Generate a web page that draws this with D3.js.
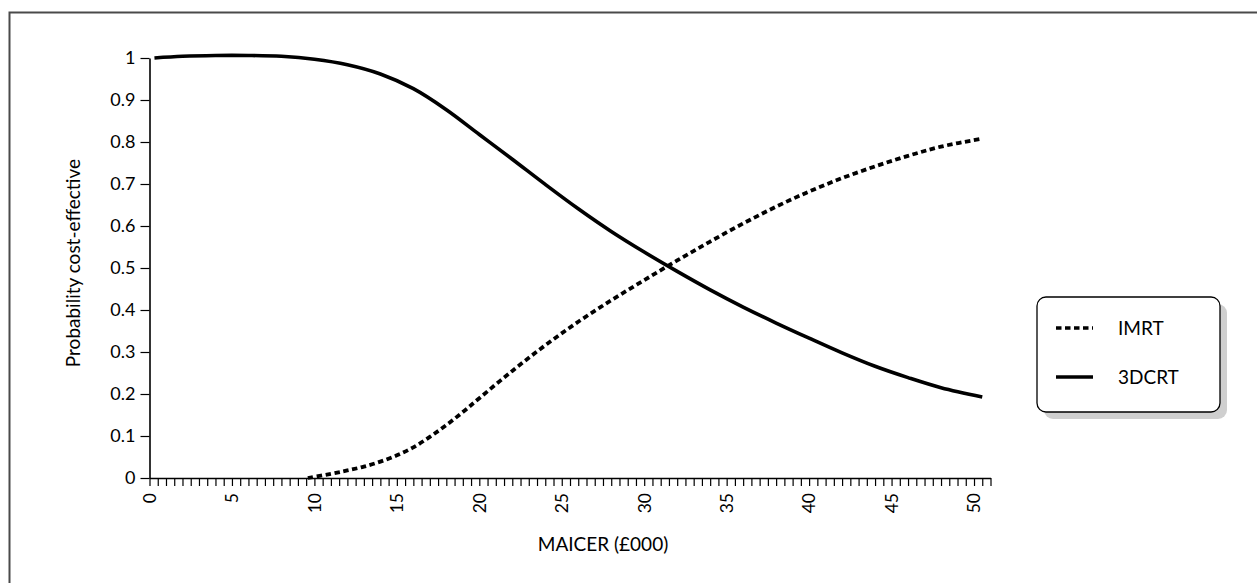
<!DOCTYPE html>
<html>
<head>
<meta charset="utf-8">
<script src="https://cdn.jsdelivr.net/npm/d3@7/dist/d3.min.js"></script>
<style>
  html, body { margin: 0; padding: 0; background: #fff; }
  svg { display: block; }
  text { font-family: Lato, "Open Sans", sans-serif; fill: #000; }
</style>
</head>
<body>
<svg id="chart" width="1257" height="583"></svg>
<script>
// Cost-effectiveness acceptability curves
const wtpImrt = [9.6, 11, 12, 13, 14, 15, 16, 17, 18, 19, 20, 22, 24, 26, 28, 30, 32, 34, 36, 38, 40, 42, 44, 46, 48, 50.5];
const probImrt = [0, 0.010, 0.018, 0.027, 0.039, 0.054, 0.073, 0.098, 0.126, 0.157, 0.190, 0.255, 0.316, 0.372, 0.423, 0.471, 0.518, 0.563, 0.606, 0.646, 0.682, 0.714, 0.742, 0.767, 0.789, 0.808];
const wtp3dcrt = [0.3, 2, 4, 6, 8, 10, 12, 14, 16, 18, 20, 22, 24, 26, 28, 30, 32, 34, 36, 38, 40, 42, 44, 46, 48, 50.5];
const prob3dcrt = [1.000, 1.004, 1.006, 1.006, 1.004, 0.997, 0.984, 0.962, 0.927, 0.877, 0.818, 0.759, 0.699, 0.641, 0.587, 0.538, 0.492, 0.448, 0.407, 0.369, 0.333, 0.298, 0.266, 0.239, 0.215, 0.193];
const seriesNames = ["IMRT", "3DCRT"];
const xMajorTicks = [0, 5, 10, 15, 20, 25, 30, 35, 40, 45, 50];
const yTicks = [0, 0.1, 0.2, 0.3, 0.4, 0.5, 0.6, 0.7, 0.8, 0.9, 1];
const yTickLabels = ["0", "0.1", "0.2", "0.3", "0.4", "0.5", "0.6", "0.7", "0.8", "0.9", "1"];

const svg = d3.select("#chart");

// outer frame
svg.append("rect")
  .attr("x", 9.5).attr("y", 12.5)
  .attr("width", 1400).attr("height", 800)
  .attr("fill", "none").attr("stroke", "#4a4a4a").attr("stroke-width", 2);

const x = d3.scaleLinear().domain([0, 51]).range([149.5, 990.5]);
const y = d3.scaleLinear().domain([0, 1]).range([478, 58]);

// x axis with half-unit minor ticks
const xMinor = d3.range(0, 51.001, 0.5);
const xAxis = d3.axisBottom(x)
  .tickValues(xMinor)
  .tickSize(8)
  .tickSizeOuter(0)
  .tickFormat("");
const gx = svg.append("g").attr("transform", `translate(0,${y(0)})`).call(xAxis);
gx.select(".domain").attr("stroke", "#000").attr("stroke-width", 1.6);
gx.selectAll(".tick line").attr("stroke", "#000").attr("stroke-width", 1.2);

svg.append("g").selectAll("text")
  .data(xMajorTicks)
  .join("text")
  .attr("transform", d => `translate(${x(d)},${y(0) + 15}) rotate(-90)`)
  .attr("text-anchor", "end")
  .attr("dy", "0.36em")
  .attr("font-size", 17.5)
  .text(d => d);

// y axis
const yAxis = d3.axisLeft(y)
  .tickValues(yTicks)
  .tickSize(9)
  .tickSizeOuter(0)
  .tickPadding(5)
  .tickFormat((d, i) => yTickLabels[i]);
const gy = svg.append("g").attr("transform", `translate(${x(0)},0)`).call(yAxis);
gy.select(".domain").attr("stroke", "#000").attr("stroke-width", 1.6);
gy.selectAll(".tick line").attr("stroke", "#000").attr("stroke-width", 1.2);
gy.selectAll(".tick text").attr("font-size", 18).attr("font-family", "Lato, sans-serif").attr("fill", "#000");

// axis titles
svg.append("text")
  .attr("x", 603).attr("y", 551)
  .attr("text-anchor", "middle")
  .attr("font-size", 19)
  .text("MAICER (£000)");

svg.append("text")
  .attr("transform", `translate(80,${(y(0) + y(1)) / 2 - 5}) rotate(-90)`)
  .attr("text-anchor", "middle")
  .attr("font-size", 19)
  .text("Probability cost-effective");

// curves
const line = d3.line()
  .x(d => x(d[0]))
  .y(d => y(d[1]))
  .curve(d3.curveCatmullRom.alpha(0.5));

const imrtPts = wtpImrt.map((w, i) => [w, probImrt[i]]);
const dcrtPts = wtp3dcrt.map((w, i) => [w, prob3dcrt[i]]);

svg.append("path")
  .datum(dcrtPts)
  .attr("d", line)
  .attr("fill", "none")
  .attr("stroke", "#000")
  .attr("stroke-width", 3.6);

svg.append("path")
  .datum(imrtPts)
  .attr("d", line)
  .attr("fill", "none")
  .attr("stroke", "#000")
  .attr("stroke-width", 3.8)
  .attr("stroke-dasharray", "5.5,3.5");

// legend
const lg = svg.append("g").attr("transform", "translate(1037,297)");
lg.append("rect")
  .attr("x", 7).attr("y", 7)
  .attr("width", 183).attr("height", 115)
  .attr("rx", 9).attr("ry", 9)
  .attr("fill", "#cfcfcf");
lg.append("rect")
  .attr("x", 0).attr("y", 0)
  .attr("width", 183).attr("height", 115)
  .attr("rx", 9).attr("ry", 9)
  .attr("fill", "#fff")
  .attr("stroke", "#000")
  .attr("stroke-width", 1.3);

const legendRows = [
  { name: seriesNames[0], dash: "5.5,3.5", yy: 31 },
  { name: seriesNames[1], dash: null, yy: 80 }
];
legendRows.forEach(r => {
  lg.append("line")
    .attr("x1", 19).attr("x2", 56)
    .attr("y1", r.yy).attr("y2", r.yy)
    .attr("stroke", "#000")
    .attr("stroke-width", 3.6)
    .attr("stroke-dasharray", r.dash);
  lg.append("text")
    .attr("x", 81).attr("y", r.yy)
    .attr("dy", "0.35em")
    .attr("font-size", 19)
    .text(r.name);
});
</script>
</body>
</html>
